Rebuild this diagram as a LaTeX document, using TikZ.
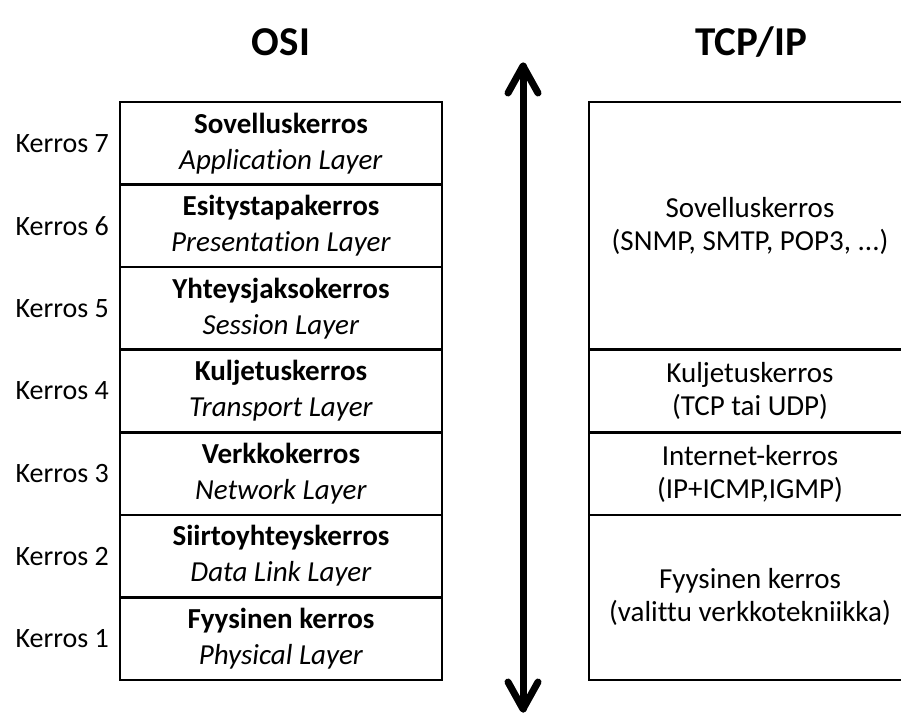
\documentclass[tikz,border=0pt]{standalone}
\usepackage{fontspec}
\setmainfont{Carlito}[Ligatures=NoCommon]
\usetikzlibrary{calc}
\begin{document}
\begin{tikzpicture}[x=1pt,y=-1pt,
  title/.style={font=\fontsize{41}{46}\selectfont\bfseries, inner sep=0pt},
  kerros/.style={font=\fontsize{28}{32}\selectfont, anchor=east, inner sep=0pt},
  osirow/.style={draw, line width=2.5pt, minimum width=322pt, minimum height=82.57pt,
    inner sep=0pt, align=center, font=\fontsize{29}{36}\selectfont},
  tcprow/.style={draw, line width=2.5pt, minimum width=322pt, inner sep=0pt,
    align=center, font=\fontsize{29}{33}\selectfont},
  arrowline/.style={line width=7pt, line cap=round, line join=round}]
\useasboundingbox (0,0) rectangle (901,715);
\clip (0,0) rectangle (901,715);
\node[title] (osi) at (281,42) {OSI};
\node[title] (tcpip) at (751,42) {TCP/IP};
% OSI rows
\node[osirow] (o7) at (281,143.29) {\textbf{Sovelluskerros}\\\textit{Application Layer}};
\node[osirow] (o6) at (281,225.86) {\textbf{Esitystapakerros}\\\textit{Presentation Layer}};
\node[osirow] (o5) at (281,308.43) {\textbf{Yhteysjaksokerros}\\\textit{Session Layer}};
\node[osirow] (o4) at (281,391.00) {\textbf{Kuljetuskerros}\\\textit{Transport Layer}};
\node[osirow] (o3) at (281,473.57) {\textbf{Verkkokerros}\\\textit{Network Layer}};
\node[osirow] (o2) at (281,556.14) {\textbf{Siirtoyhteyskerros}\\\textit{Data Link Layer}};
\node[osirow] (o1) at (281,638.71) {\textbf{Fyysinen kerros}\\\textit{Physical Layer}};
% Kerros labels
\node[kerros] (k7) at (109,143.29) {Kerros 7};
\node[kerros] (k6) at (109,225.86) {Kerros 6};
\node[kerros] (k5) at (109,308.43) {Kerros 5};
\node[kerros] (k4) at (109,391.00) {Kerros 4};
\node[kerros] (k3) at (109,473.57) {Kerros 3};
\node[kerros] (k2) at (109,556.14) {Kerros 2};
\node[kerros] (k1) at (109,638.71) {Kerros 1};
% TCP/IP rows
\node[tcprow, minimum height=247.7pt] (t4) at (750,225.86) {Sovelluskerros\\(SNMP, SMTP, POP3, ...)};
\node[tcprow, minimum height=82.57pt] (t3) at (750,391.00) {Kuljetuskerros\\(TCP tai UDP)};
\node[tcprow, minimum height=82.57pt] (t2) at (750,473.57) {Internet-kerros\\(IP+ICMP,IGMP)};
\node[tcprow, minimum height=165.14pt] (t1) at (750,597.43) {Fyysinen kerros\\(valittu verkkotekniikka)};
% arrow
\coordinate (atop) at (523,66);
\coordinate (abot) at (523,709);
\draw[arrowline] (atop) -- (abot);
\draw[arrowline] ($(atop)+(-15,27)$) -- (atop) -- ($(atop)+(15,27)$);
\draw[arrowline] ($(abot)+(-15,-27)$) -- (abot) -- ($(abot)+(15,-27)$);
\end{tikzpicture}
\end{document}
